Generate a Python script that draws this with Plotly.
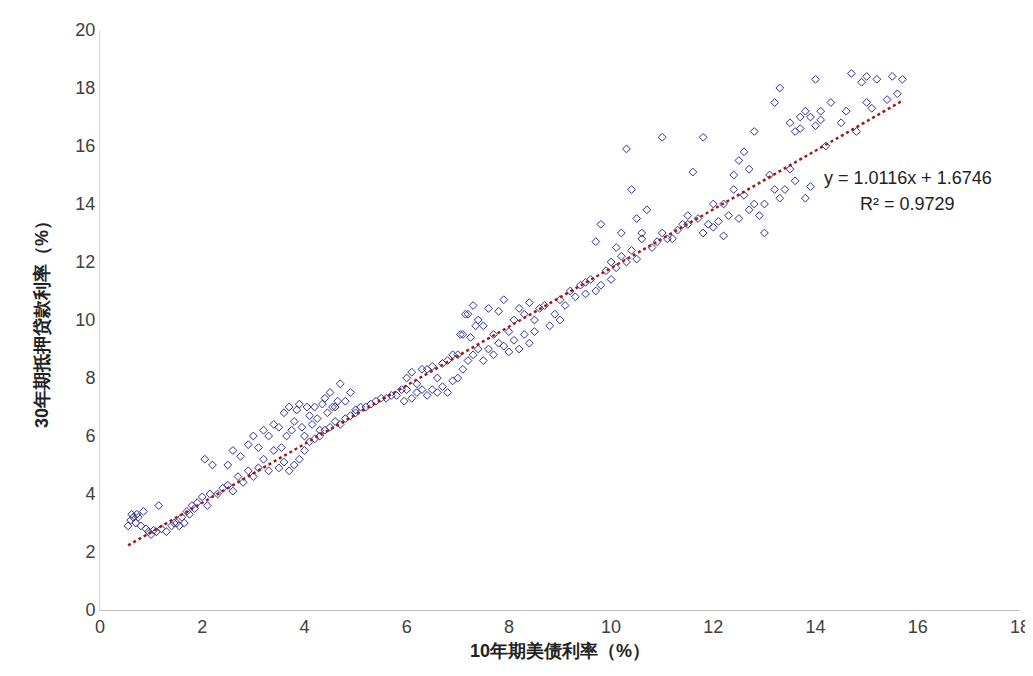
import plotly.graph_objects as go

x_vals = [0.55,0.6,0.62,0.65,0.7,0.72,0.75,0.8,0.85,0.9,0.95,1.0,1.05,1.1,1.15,1.2,1.3,1.4,1.45,1.5,1.55,1.6,1.65,1.7,1.75,1.8,1.85,
 1.9,2.0,2.05,2.1,2.15,2.2,2.3,2.4,2.5,2.5,2.6,2.6,2.7,2.75,2.8,2.9,2.9,3.0,3.0,3.1,3.1,3.2,3.2,3.3,3.3,3.4,3.4,
 3.5,3.5,3.55,3.6,3.6,3.65,3.7,3.7,3.75,3.8,3.8,3.85,3.9,3.9,3.95,4.0,4.0,4.05,4.1,4.1,4.15,4.2,4.2,4.25,4.3,4.3,4.35,4.4,4.4,4.45,4.5,4.5,4.55,4.6,4.6,4.65,4.7,4.7,4.8,4.8,4.9,4.9,5.0,5.0,
 5.1,5.2,5.3,5.4,5.5,5.6,5.7,5.8,5.9,5.95,6.0,6.0,6.1,6.1,6.2,6.2,6.3,6.3,6.4,6.4,6.5,6.5,6.6,6.6,6.7,6.7,6.8,6.8,6.9,6.9,
 7.0,7.0,7.05,7.1,7.1,7.15,7.2,7.2,7.25,7.3,7.3,7.35,7.4,7.4,7.5,7.5,7.6,7.6,7.7,7.7,7.8,7.8,7.9,7.9,8.0,8.0,8.1,8.1,8.2,8.2,8.3,8.3,8.4,8.4,8.5,8.5,8.6,8.7,8.8,8.9,9.0,9.0,9.1,9.2,9.3,9.4,9.5,9.5,9.6,9.7,9.7,9.8,9.8,
 9.9,10.0,10.0,10.1,10.1,10.2,10.2,10.3,10.3,10.4,10.4,10.5,10.5,10.6,10.6,10.7,10.8,10.9,11.0,11.0,11.1,11.2,11.3,11.4,11.5,11.5,11.6,11.7,11.8,11.8,11.9,12.0,12.0,
 12.1,12.2,12.2,12.3,12.4,12.4,12.5,12.5,12.6,12.6,12.7,12.7,12.8,12.8,12.9,13.0,13.0,13.1,13.2,13.2,13.3,13.3,13.4,13.5,13.5,13.6,13.6,13.7,13.7,13.8,13.8,13.9,13.9,14.0,14.0,14.1,14.1,14.2,14.3,14.5,14.6,14.7,14.8,14.9,15.0,15.0,15.1,15.2,15.4,15.5,15.6,15.7]
y_vals = [2.9,3.1,3.3,3.2,3.0,3.3,3.2,2.9,3.4,2.8,2.7,2.6,2.75,2.7,3.6,2.8,2.7,2.9,3.0,3.0,2.9,3.2,3.0,3.4,3.3,3.6,3.5,
 3.7,3.9,5.2,3.6,4.0,5.0,4.0,4.2,4.3,5.0,4.1,5.5,4.6,5.3,4.4,4.8,5.7,6.0,4.6,4.9,5.6,5.2,6.2,4.8,6.0,5.5,6.4,
 6.3,4.9,5.6,6.8,5.1,6.0,7.0,4.8,6.2,6.5,5.0,6.9,7.1,5.2,6.3,6.0,5.5,7.0,6.7,5.8,6.4,7.0,5.9,6.6,6.2,6.0,7.1,7.3,6.2,6.8,7.5,6.3,7.0,7.0,6.5,7.2,7.8,6.4,7.2,6.6,7.5,6.7,6.8,6.9,
 7.0,7.0,7.1,7.2,7.3,7.3,7.4,7.4,7.6,7.2,8.0,7.6,7.3,8.2,7.8,7.5,8.3,7.6,8.3,7.4,7.6,8.4,8.0,7.5,8.5,7.7,7.5,8.6,7.9,8.8,
 8.8,8.0,9.5,9.5,8.3,10.2,10.2,8.6,9.4,10.5,8.8,9.8,10.0,9.0,9.8,8.6,9.0,10.4,9.5,8.8,10.3,9.2,9.1,10.7,9.6,8.9,10.0,9.3,10.4,9.0,10.2,9.5,9.2,10.6,10.0,9.6,10.4,10.5,9.8,10.2,10.7,10.0,10.5,11.0,10.8,11.2,10.9,11.3,11.4,11.0,12.7,11.2,13.3,
 11.7,12.0,11.4,12.5,11.8,13.0,12.2,15.9,12.0,14.5,12.4,13.5,12.1,13.0,12.8,13.8,12.5,12.7,16.3,13.0,12.8,12.8,13.1,13.3,13.3,13.6,15.1,13.5,16.3,13.0,13.3,13.2,14.0,
 13.4,14.0,12.9,13.6,15.0,14.5,13.5,15.5,15.8,14.3,13.8,15.2,14.0,16.5,13.6,14.0,13.0,15.0,17.5,14.5,18.0,14.2,14.5,16.8,15.2,16.5,14.8,17.0,16.6,17.2,14.2,17.0,14.6,18.3,16.7,17.2,16.9,16.0,17.5,16.8,17.2,18.5,16.5,18.2,17.5,18.4,17.3,18.3,17.6,18.4,17.8,18.3]

trend_x = [0.55, 15.7]
trend_y = [2.23, 17.56]

fig = go.Figure()
fig.add_trace(go.Scatter(x=x_vals, y=y_vals, mode="markers",
    marker=dict(symbol="diamond-open", size=6, color="#2E3192", line=dict(width=1)), showlegend=False))
fig.add_trace(go.Scatter(x=trend_x, y=trend_y, mode="lines",
    line=dict(color="#9B1B1B", width=2.5, dash="dot"), showlegend=False))

font = "Liberation Sans, Arial, sans-serif"
fig.update_layout(
    width=1033, height=676, margin=dict(l=92, r=21, t=22, b=74),
    plot_bgcolor="white", paper_bgcolor="white",
    font=dict(family=font, size=18, color="#404040"),
    xaxis=dict(range=[0, 18], dtick=2, showgrid=False, zeroline=False, showline=True, automargin=False,
               linecolor="#BFBFBF", ticks="", tickfont=dict(size=18),
               title=dict(text="<b>10年期美债利率（%）</b>", font=dict(size=18, color="#222"), standoff=8)),
    yaxis=dict(range=[0, 20], dtick=2, showgrid=False, zeroline=False, showline=True, automargin=False,
               linecolor="#D9D9D9", ticks="", tickfont=dict(size=18),
               title=dict(text="<b>30年期抵押贷款利率（%）</b>", font=dict(size=18, color="#222"), standoff=22)),
    annotations=[
        dict(x=15.8, y=14.9, text="y = 1.0116x + 1.6746", showarrow=False, font=dict(size=18, color="#222")),
        dict(x=15.8, y=14.0, text="R² = 0.9729", showarrow=False, font=dict(size=18, color="#222")),
    ],
)
fig.write_html("out.html")
